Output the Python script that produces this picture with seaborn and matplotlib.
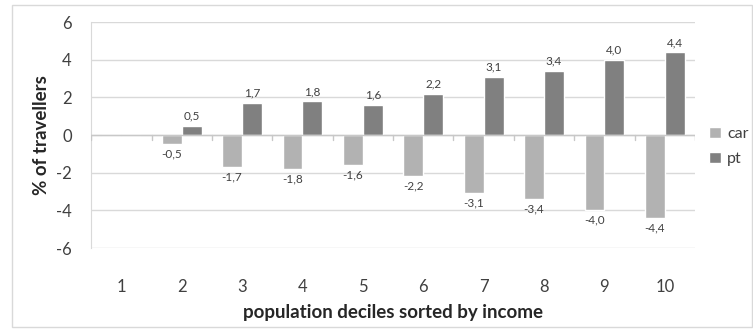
import numpy as np
import pandas as pd
import matplotlib.pyplot as plt
import seaborn as sns
from matplotlib.patches import Rectangle

# data
deciles = ['1', '2', '3', '4', '5', '6', '7', '8', '9', '10']
car = [0.0, -0.5, -1.7, -1.8, -1.6, -2.2, -3.1, -3.4, -4.0, -4.4]
pt = [0.0, 0.5, 1.7, 1.8, 1.6, 2.2, 3.1, 3.4, 4.0, 4.4]

df = pd.DataFrame({'decile': deciles * 2,
                   'value': car + pt,
                   'mode': ['car'] * 10 + ['pt'] * 10})

sns.set_style('white')
plt.rcParams['font.family'] = ['Lato', 'DejaVu Sans']
plt.rcParams['axes.unicode_minus'] = False

fig = plt.figure(figsize=(7.53, 3.29), dpi=100)
ax = fig.add_axes([0.121, 0.246, 0.802, 0.687])

sns.barplot(data=df, x='decile', y='value', hue='mode', order=deciles,
            palette={'car': '#b2b2b2', 'pt': '#808080'}, width=0.66,
            ax=ax, errorbar=None, zorder=3)

# labels, skip the zero decile
for bars in ax.containers:
    labs = []
    for b in bars:
        v = b.get_height()
        labs.append('' if abs(v) < 1e-9 else f'{v:.1f}'.replace('.', ','))
    ax.bar_label(bars, labels=labs, padding=3, fontsize=8.5, color='#404040')

ax.set_ylim(-6, 6)
ax.set_yticks(np.arange(-6, 7, 2))
ax.set_xlim(-0.5, len(deciles) - 0.5)
ax.yaxis.grid(True, color='#d9d9d9', lw=1, zorder=0)
for s in ['top', 'right', 'bottom']:
    ax.spines[s].set_visible(False)
ax.spines['left'].set_color('#d9d9d9')

# zero axis line with category dividers
ax.axhline(0, color='#c8c8c8', lw=1, zorder=4)
for i in range(len(deciles) + 1):
    ax.plot([i - 0.5, i - 0.5], [-0.25, 0.0], color='#c8c8c8', lw=1, zorder=4)

ax.tick_params(axis='both', length=0, labelsize=12, colors='#404040')
ax.tick_params(axis='y', pad=14)
ax.tick_params(axis='x', pad=22)
ax.set_xlabel('population deciles sorted by income', fontsize=13.5,
              fontweight='bold', color='#262626', labelpad=7)
ax.set_ylabel('% of travellers', fontsize=13.5, fontweight='bold',
              color='#262626', labelpad=4)

ax.legend(loc='center left', bbox_to_anchor=(1.0, 0.45), frameon=False,
          fontsize=11.5, handlelength=0.7, handleheight=0.7, handletextpad=0.4,
          labelspacing=0.7, labelcolor='#404040')

fig.patches.append(Rectangle((0.016, 0.005), 0.983, 0.98, transform=fig.transFigure,
                             fill=False, ec='#d9d9d9', lw=1))

fig.savefig('out.png', dpi=100)
